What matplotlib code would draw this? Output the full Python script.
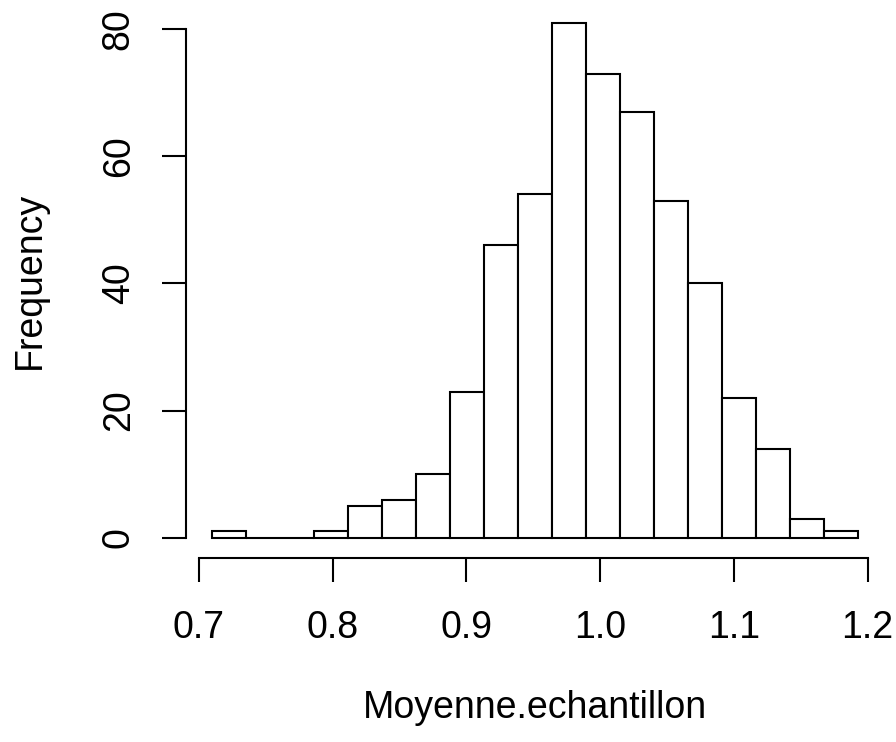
"""
Histogram of sample means (R base-graphics look).
"""
import matplotlib
matplotlib.use("Agg")
import matplotlib.pyplot as plt

# ── Data ──────────────────────────────────────────────────────────────────────
bin_edges = [0.7097, 0.7351, 0.7606, 0.7860, 0.8115, 0.8369, 0.8623, 0.8878,
             0.9132, 0.9387, 0.9641, 0.9895, 1.0150, 1.0404, 1.0659, 1.0913,
             1.1167, 1.1422, 1.1676, 1.1930]
counts = [1, 0, 0, 1, 5, 6, 10, 23, 46, 54, 81, 73, 67, 53, 40, 22, 14, 3, 1]
x_ticks = [0.7, 0.8, 0.9, 1.0, 1.1, 1.2]
y_ticks = [0, 20, 40, 60, 80]
x_label = "Moyenne.echantillon"
y_label = "Frequency"

# ── Style ─────────────────────────────────────────────────────────────────────
plt.rcParams["font.family"] = ["Liberation Sans", "DejaVu Sans"]
FS = 27
LW = 1.5

fig = plt.figure(figsize=(8.96, 7.42), dpi=100)
ax = fig.add_axes([0.2076, 0.2476, 0.7790, 0.7493])

widths = [b - a for a, b in zip(bin_edges[:-1], bin_edges[1:])]
ax.bar(bin_edges[:-1], counts, width=widths, align="edge",
       facecolor="white", edgecolor="black", linewidth=LW)

span = bin_edges[-1] - bin_edges[0]
ax.set_xlim(bin_edges[0] - 0.04 * span, bin_edges[-1] + 0.04 * span)
ax.set_ylim(-0.04 * max(counts), max(counts) * 1.04)

for s in ["top", "right"]:
    ax.spines[s].set_visible(False)
ax.spines["left"].set_bounds(y_ticks[0], y_ticks[-1])
ax.spines["bottom"].set_bounds(x_ticks[0], x_ticks[-1])
for s in ["left", "bottom"]:
    ax.spines[s].set_linewidth(LW)

ax.set_xticks(x_ticks)
ax.set_xticklabels([f"{v:.1f}" for v in x_ticks])
ax.set_yticks(y_ticks)
ax.set_yticklabels([str(v) for v in y_ticks], rotation=90, va="center")
ax.tick_params(axis="both", length=17.5, width=LW, labelsize=FS, direction="out")
ax.tick_params(axis="x", pad=20)
ax.tick_params(axis="y", pad=18)

fig.text(0.5 * (0.2076 + 0.9866), 1 - 708 / 742, x_label,
         ha="center", va="center", fontsize=FS)
fig.text(30 / 896, 0.5 * (0.2476 + 0.997), y_label,
         ha="center", va="center", rotation=90, fontsize=FS)

fig.savefig("out.png", dpi=100, facecolor="white")
